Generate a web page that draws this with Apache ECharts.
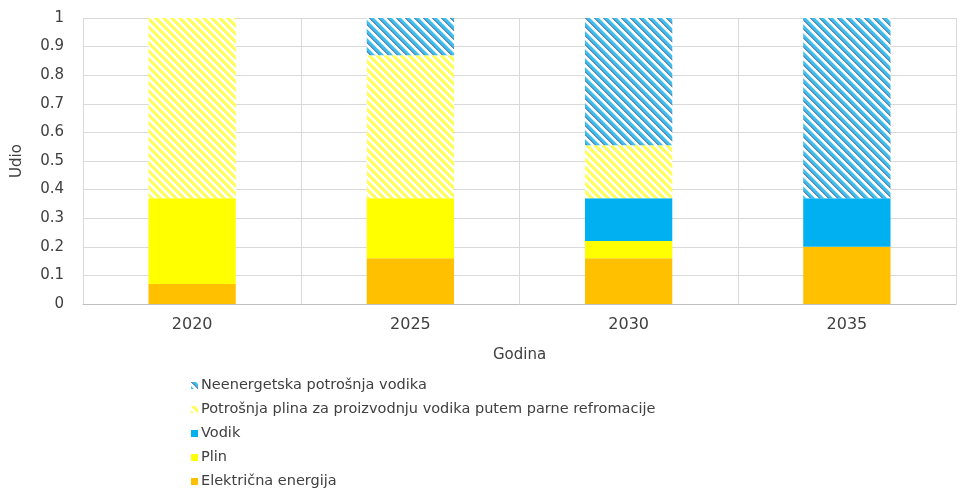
<!DOCTYPE html>
<html>
<head>
<meta charset="utf-8">
<script src="https://cdn.jsdelivr.net/npm/echarts@6/dist/echarts.min.js"></script>
<style>
  html, body { margin: 0; padding: 0; background: #ffffff; }
  #chart { width: 960px; height: 488px; }
</style>
</head>
<body>
<div id="chart"></div>
<script>
// Years on the category axis
const years = ['2020', '2025', '2030', '2035'];

// Shares per year (stacked bottom to top)
const elektricnaEnergija = [0.07, 0.16, 0.16, 0.20];
const plin = [0.30, 0.21, 0.06, 0.00];
const vodik = [0.00, 0.00, 0.15, 0.17];
const potrosnjaPlina = [0.63, 0.50, 0.185, 0.00];
const neenergetska = [0.00, 0.13, 0.445, 0.63];

// Series names, legend order
const names = [
  'Neenergetska potrošnja vodika',
  'Potrošnja plina za proizvodnju vodika putem parne refromacije',
  'Vodik',
  'Plin',
  'Električna energija'
];

// Diagonal hatch tile: bands along x - y, each band [from, to, color]
function hatch(period, bands) {
  const c = document.createElement('canvas');
  c.width = period; c.height = period;
  const ctx = c.getContext('2d');
  ctx.fillStyle = '#ffffff';
  ctx.fillRect(0, 0, period, period);
  for (let y = 0; y < period; y++) {
    for (let x = 0; x < period; x++) {
      const t = (((x - y) % period) + period) % period;
      for (const b of bands) {
        if (t >= b[0] && t < b[1]) {
          ctx.fillStyle = b[2];
          ctx.fillRect(x, y, 1, 1);
        }
      }
    }
  }
  return { image: c, repeat: 'repeat' };
}

const blueHatch = hatch(9, [[0, 2, '#5a93bd'], [2, 5, '#3cc0f0'], [5, 6, '#a8e2f6']]);
const yellowHatch = hatch(8, [[0, 4, '#ffff5c'], [4, 5, '#ffffb0']]);

const textColor = '#404040';
const font = '"DejaVu Sans", Verdana, sans-serif';

function bar(name, data, color) {
  return {
    name: name,
    type: 'bar',
    stack: 'udio',
    barWidth: '40%',
    data: data,
    itemStyle: { color: color },
    emphasis: { disabled: true }
  };
}

const chart = echarts.init(document.getElementById('chart'));
chart.setOption({
  backgroundColor: '#ffffff',
  animation: false,
  textStyle: { fontFamily: font },
  grid: { left: 83, right: 4, top: 18, bottom: 184 },
  legend: {
    orient: 'vertical',
    left: 186,
    top: 373,
    height: 140,
    itemWidth: 7,
    itemHeight: 7,
    itemGap: 9,
    icon: 'rect',
    data: names,
    textStyle: { color: textColor, fontSize: 14.5, fontFamily: font, padding: [0, 0, 0, -2] }
  },
  xAxis: {
    type: 'category',
    data: years,
    name: 'Godina',
    nameLocation: 'middle',
    nameGap: 44,
    nameTextStyle: { color: textColor, fontSize: 15 },
    axisLine: { lineStyle: { color: '#bfbfbf' } },
    axisTick: { show: false },
    axisLabel: { color: textColor, fontSize: 16, margin: 13 },
    splitLine: { show: true, lineStyle: { color: '#d9d9d9' } }
  },
  yAxis: {
    type: 'value',
    min: 0,
    max: 1,
    interval: 0.1,
    name: 'Udio',
    nameLocation: 'middle',
    nameGap: 58,
    nameTextStyle: { color: textColor, fontSize: 15 },
    axisLine: { show: true, lineStyle: { color: '#d9d9d9' } },
    axisTick: { show: false },
    axisLabel: { color: textColor, fontSize: 15, margin: 19 },
    splitLine: { lineStyle: { color: '#d9d9d9' } }
  },
  series: [
    bar(names[4], elektricnaEnergija, '#ffc000'),
    bar(names[3], plin, '#ffff00'),
    bar(names[2], vodik, '#00b0f0'),
    bar(names[1], potrosnjaPlina, yellowHatch),
    bar(names[0], neenergetska, blueHatch)
  ]
});
</script>
</body>
</html>
